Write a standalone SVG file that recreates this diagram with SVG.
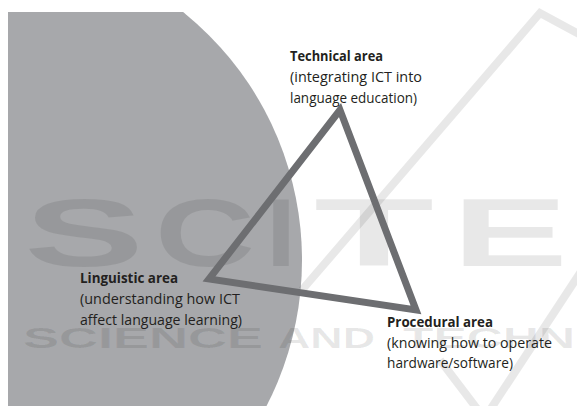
<svg xmlns="http://www.w3.org/2000/svg" width="577" height="406" viewBox="0 0 577 406">
  <style>
    .lbl { font-family: "Open Sans", "Noto Sans", "Liberation Sans", sans-serif; font-size: 14.5px; fill: #231f20; }
    .ttl { font-weight: bold; }
    .wm { font-family: "Liberation Sans", Arial, sans-serif; font-weight: bold; fill: #000000; fill-opacity: 0.09; }
    .wml { fill: none; stroke: #000000; stroke-opacity: 0.09; stroke-width: 8; }
    .tri { fill: none; stroke: #6d6e71; stroke-width: 7; stroke-linejoin: miter; }
  </style>
  <defs>
    <clipPath id="panel">
      <rect x="8" y="12" width="569" height="394"/>
    </clipPath>
  </defs>

  <rect width="577" height="406" fill="#ffffff"/>

  <!-- large grey disc cut by the panel edges -->
  <g id="backdrop" clip-path="url(#panel)">
    <circle cx="-16" cy="260" r="318" fill="#a7a8ab"/>
  </g>

  <!-- faint publisher mark -->
  <g id="watermark">
    <polyline class="wml" points="302,290 540,13 590,40"/>
    <line class="wml" x1="582" y1="270" x2="490" y2="410"/>
    <line class="wml" x1="440" y1="360" x2="478" y2="410"/>
    <text class="wm" x="24" y="266" font-size="97" textLength="120" lengthAdjust="spacingAndGlyphs">S</text>
    <text class="wm" x="155" y="266" font-size="97" textLength="100" lengthAdjust="spacingAndGlyphs">C</text>
    <text class="wm" x="266" y="266" font-size="97" textLength="30" lengthAdjust="spacingAndGlyphs">I</text>
    <text class="wm" x="314" y="266" font-size="97" textLength="120" lengthAdjust="spacingAndGlyphs">T</text>
    <text class="wm" x="452" y="266" font-size="97" textLength="116" lengthAdjust="spacingAndGlyphs">E</text>
    <text class="wm" x="23" y="348" font-size="29" textLength="240" lengthAdjust="spacingAndGlyphs">SCIENCE</text>
    <text class="wm" x="278" y="348" font-size="29" textLength="97" lengthAdjust="spacingAndGlyphs">AND</text>
    <text class="wm" x="403" y="348" font-size="29" textLength="172" lengthAdjust="spacingAndGlyphs">TECHN</text>
  </g>

  <!-- connectors: the three sides of the triangle -->
  <g id="connectors">
    <path class="tri" d="M340,110 L209,279 L416,310 Z"/>
  </g>

  <g id="technical">
    <text class="lbl ttl" x="290" y="60.5" textLength="93" lengthAdjust="spacingAndGlyphs">Technical area</text>
    <text class="lbl" x="290" y="81.5" textLength="132" lengthAdjust="spacingAndGlyphs">(integrating ICT into</text>
    <text class="lbl" x="290" y="102.5" textLength="127" lengthAdjust="spacingAndGlyphs">language education)</text>
  </g>

  <g id="linguistic">
    <text class="lbl ttl" x="80" y="283" textLength="98" lengthAdjust="spacingAndGlyphs">Linguistic area</text>
    <text class="lbl" x="80" y="304" textLength="160" lengthAdjust="spacingAndGlyphs">(understanding how ICT</text>
    <text class="lbl" x="80" y="325" textLength="162" lengthAdjust="spacingAndGlyphs">affect language learning)</text>
  </g>

  <g id="procedural">
    <text class="lbl ttl" x="387" y="326.5" textLength="106" lengthAdjust="spacingAndGlyphs">Procedural area</text>
    <text class="lbl" x="387" y="347.5" textLength="165" lengthAdjust="spacingAndGlyphs">(knowing how to operate</text>
    <text class="lbl" x="387" y="368" textLength="126" lengthAdjust="spacingAndGlyphs">hardware/software)</text>
  </g>
</svg>
